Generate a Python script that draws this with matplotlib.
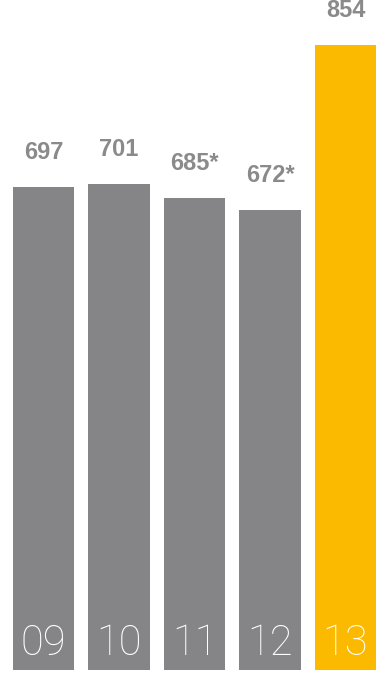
import matplotlib.pyplot as plt
import numpy as np

# datos
anios = ['09', '10', '11', '12', '13']
valores = [697, 701, 685, 672, 854]
etiquetas = ['697', '701', '685*', '672*', '854']
colores = ['#858587', '#858587', '#858587', '#858587', '#fbba00']

base = 166  # el eje no empieza en cero

fig = plt.figure(figsize=(3.86, 6.75), dpi=100)
ax = fig.add_axes([0, 0, 1, 1])

x = np.arange(len(anios))
alturas = np.array(valores) - base
ax.bar(x, alturas, bottom=base, width=0.81, color=colores)

# valores encima de cada barra
for i, txt in enumerate(etiquetas):
    ax.annotate(txt, xy=(x[i], valores[i]), xytext=(0, 20), textcoords='offset points',
                ha='center', va='baseline', fontsize=17, fontweight='bold',
                color='#8a8a8a', family='Liberation Sans')

# años dentro de la barra
for i, a in enumerate(anios):
    ax.annotate(a, xy=(x[i], base), xytext=(0, 10.8), textcoords='offset points',
                ha='center', va='baseline', fontsize=30, fontweight='light',
                color='white', family='Roboto')

ax.set_xlim(-0.577, 4.537)
ax.set_ylim(160.5, 903)
ax.axis('off')

plt.savefig('out.png', dpi=100)
